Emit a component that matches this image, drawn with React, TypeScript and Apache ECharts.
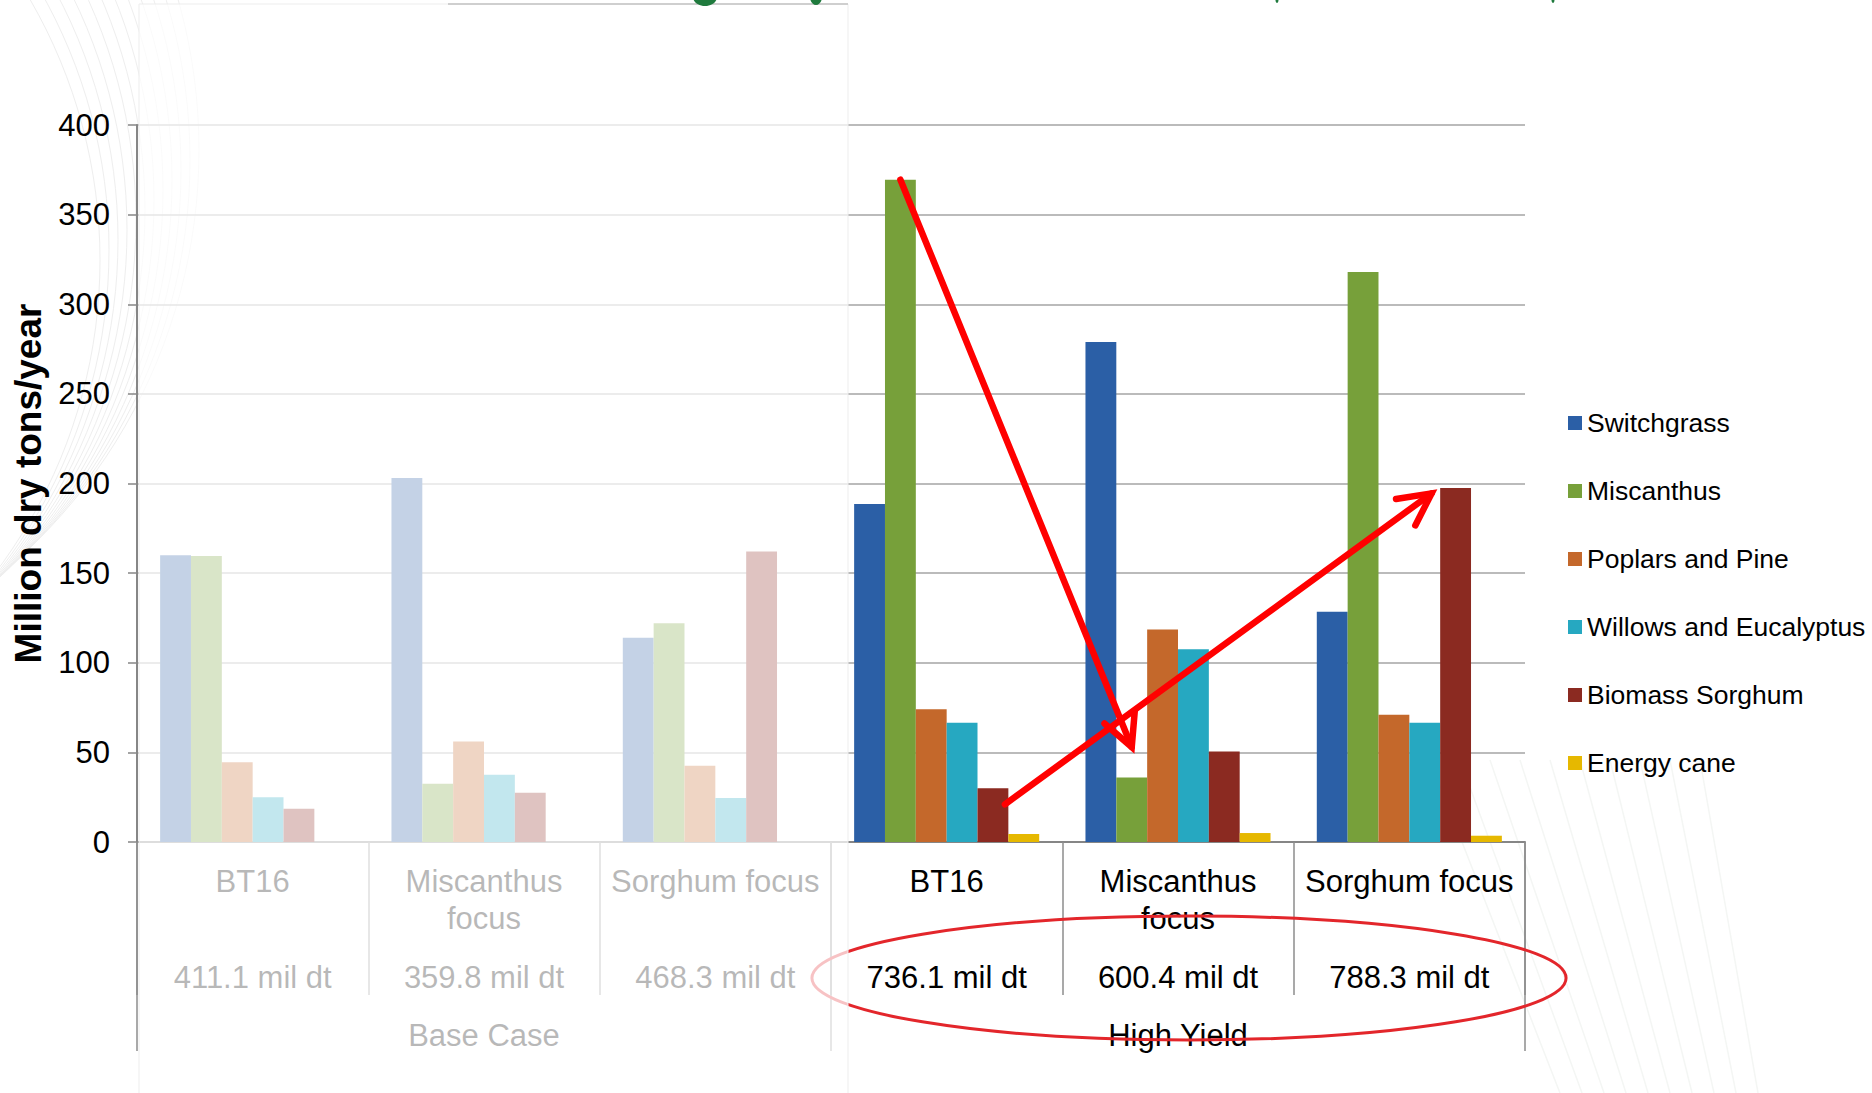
import React, { useEffect, useRef } from 'react';
import * as echarts from 'echarts';

// Scenario categories along the x axis (two nested levels: scenario / case)
const scenarioNames = ['BT16', 'Miscanthus\nfocus', 'Sorghum focus', 'BT16', 'Miscanthus\nfocus', 'Sorghum focus'];
const scenarioTotals = [411.1, 359.8, 468.3, 736.1, 600.4, 788.3];
const caseNames = ['Base Case', 'High Yield'];

// Crops (legend order)
const cropNames = ['Switchgrass', 'Miscanthus', 'Poplars and Pine', 'Willows and Eucalyptus', 'Biomass Sorghum', 'Energy cane'];
const cropColors = ['#2b5fa6', '#77a03a', '#c4682b', '#26a8c1', '#8b2a21', '#e6b800'];

// Million dry tons per year, one value per scenario
const switchgrass = [160, 203, 114, 188.5, 279, 128.5];
const miscanthus = [159.5, 32.5, 122, 369.5, 36, 318];
const poplarsPine = [44.5, 56, 42.5, 74, 118.5, 71];
const willowsEucalyptus = [25, 37.5, 24.5, 66.5, 107.5, 66.5];
const biomassSorghum = [18.5, 27.5, 162, 30, 50.5, 197.5];
const energyCane = [0, 0, 0, 4.5, 5, 3.5];
const cropValues = [switchgrass, miscanthus, poplarsPine, willowsEucalyptus, biomassSorghum, energyCane];

// Value axis
const yMin = 0;
const yMax = 400;
const yStep = 50;

const FONT = '"Liberation Sans", Arial, Helvetica, sans-serif';

export default function App() {
  const ref = useRef<HTMLDivElement>(null);

  useEffect(() => {
    if (!ref.current) return;
    const chart = echarts.init(ref.current, undefined, { renderer: 'svg' });

    const option: any = {
      animation: false,
      backgroundColor: '#ffffff',
      textStyle: { fontFamily: FONT },
      grid: { left: 137, top: 125, width: 1388, height: 717, containLabel: false, outerBoundsMode: 'none' },
      legend: {
        orient: 'vertical',
        left: 1563,
        top: 403,
        icon: 'rect',
        itemWidth: 14,
        itemHeight: 14,
        itemGap: 38,
        selectedMode: false,
        data: cropNames,
        textStyle: { fontFamily: FONT, fontSize: 26.5, lineHeight: 30, color: '#000' },
      },
      xAxis: [
        {
          type: 'category',
          position: 'bottom',
          data: scenarioNames,
          axisLine: { lineStyle: { color: '#868686', width: 2 } },
          axisTick: { show: true, interval: 0, length: 153, lineStyle: { color: '#8c8c8c', width: 1.5 } },
          axisLabel: { interval: 0, fontFamily: FONT, fontSize: 31, lineHeight: 37, color: '#000', margin: 21 },
          splitLine: { show: false },
        },
        {
          type: 'category',
          position: 'bottom',
          data: scenarioTotals.map((v) => `${v.toFixed(1)} mil dt`),
          axisLine: { show: false },
          axisTick: { show: false },
          axisLabel: { interval: 0, fontFamily: FONT, fontSize: 31, lineHeight: 37, color: '#000', margin: 117 },
          splitLine: { show: false },
        },
        {
          type: 'category',
          position: 'bottom',
          data: caseNames,
          axisLine: { show: false },
          axisTick: { show: true, interval: 0, length: 209, lineStyle: { color: '#8c8c8c', width: 1.5 } },
          axisLabel: { interval: 0, fontFamily: FONT, fontSize: 31, lineHeight: 37, color: '#000', margin: 175 },
          splitLine: { show: false },
        },
      ],
      yAxis: {
        type: 'value',
        min: yMin,
        max: yMax,
        interval: yStep,
        name: 'Million dry tons/year',
        nameLocation: 'middle',
        nameRotate: 90,
        nameGap: 87,
        nameTextStyle: { fontFamily: FONT, fontSize: 37, fontWeight: 'bold', color: '#000' },
        axisLine: { show: true, lineStyle: { color: '#868686', width: 2 } },
        axisTick: { show: true, length: 9, lineStyle: { color: '#868686', width: 1.5 } },
        axisLabel: { fontFamily: FONT, fontSize: 31, color: '#000', margin: 27 },
        splitLine: { show: true, lineStyle: { color: '#a5a5a5', width: 1.5 } },
      },
      series: cropNames.map((name, i) => ({
        type: 'bar',
        name,
        xAxisIndex: 0,
        yAxisIndex: 0,
        data: cropValues[i],
        barGap: '0%',
        barCategoryGap: '20%',
        itemStyle: { color: cropColors[i] },
      })),
    };

    chart.setOption(option);

    // Pixel helpers resolved through the chart's own axes
    const pt = (cat: number, val: number) => chart.convertToPixel({ seriesIndex: 0 }, [cat, val]) as number[];
    const band = pt(1, 0)[0] - pt(0, 0)[0];
    const barW = (band * 0.8) / cropNames.length;
    const barPt = (cat: number, s: number, val: number, dx = 0) => {
      const p = pt(cat, val);
      return [p[0] + (s - (cropNames.length - 1) / 2) * barW + dx, p[1]];
    };
    const [x0, yBase] = pt(0, 0);
    const gridLeft = x0 - band / 2;
    const caseSplitX = gridLeft + band * 3;

    // Open arrow head at the end of a segment
    const arrowHead = (from: number[], to: number[], len = 36, ang = 27) => {
      const a = Math.atan2(from[1] - to[1], from[0] - to[0]);
      const r = (ang * Math.PI) / 180;
      return [
        [to[0] + len * Math.cos(a + r), to[1] + len * Math.sin(a + r)],
        [to[0], to[1]],
        [to[0] + len * Math.cos(a - r), to[1] + len * Math.sin(a - r)],
      ];
    };
    const red = '#ff0000';
    const arrows = [
      [barPt(3, 1, miscanthus[3]), barPt(4, 1, 53)],
      [barPt(3, 4, 21, 12), barPt(5, 4, 194.5, -24)],
    ];
    const arrowEls: any[] = [];
    arrows.forEach(([a, b]) => {
      arrowEls.push({
        type: 'line',
        z: 120,
        shape: { x1: a[0], y1: a[1], x2: b[0], y2: b[1] },
        style: { stroke: red, lineWidth: 6.5, lineCap: 'round' },
      });
      arrowEls.push({
        type: 'polyline',
        z: 120,
        shape: { points: arrowHead(a, b) },
        style: { stroke: red, fill: 'none', lineWidth: 6.5, lineCap: 'round', lineJoin: 'miter' },
      });
    });

    // Faint slide background swirl at the left edge and lower right
    const swirl: any[] = [];
    for (let i = 0; i < 12; i++) {
      swirl.push({
        type: 'circle',
        z: -5,
        shape: { cx: -420 + i * 6, cy: 260 - i * 10, r: 520 + i * 3 },
        style: { fill: 'none', stroke: '#eeeeee', lineWidth: 1 },
        silent: true,
      });
    }
    for (let i = 0; i < 10; i++) {
      swirl.push({
        type: 'line',
        z: -5,
        shape: { x1: 1560 + i * 22, y1: 1093, x2: 1430 + i * 30, y2: 760 },
        style: { stroke: '#f4f6f4', lineWidth: 1.5 },
        silent: true,
      });
    }

    const hy = pt(4, 0);

    chart.setOption({
      graphic: [
        ...swirl,
        // Circled high-yield totals
        {
          type: 'ellipse',
          z: 60,
          shape: { cx: hy[0] + 11, cy: yBase + 136, rx: band * 1.63, ry: 62 },
          style: { fill: 'none', stroke: '#e3262b', lineWidth: 3 },
          silent: true,
        },
        // Wash over the base-case panel
        {
          type: 'rect',
          z: 100,
          shape: { x: gridLeft + 2, y: 4, width: caseSplitX + 17 - (gridLeft + 2), height: 1093 },
          style: { fill: 'rgba(255,255,255,0.72)', stroke: '#ededed', lineWidth: 1 },
          silent: true,
        },
        {
          type: 'line',
          z: 101,
          shape: { x1: 448, y1: 4, x2: caseSplitX + 17, y2: 4 },
          style: { stroke: '#cfcfcf', lineWidth: 2 },
          silent: true,
        },
        // Bottoms of the slide heading glyphs
        { type: 'ellipse', z: 102, shape: { cx: 705, cy: -3, rx: 12, ry: 9 }, style: { fill: '#1f7a3d' }, silent: true },
        { type: 'ellipse', z: 102, shape: { cx: 816, cy: -3, rx: 6, ry: 8 }, style: { fill: '#1f7a3d' }, silent: true },
        { type: 'ellipse', z: 102, shape: { cx: 1277, cy: 0, rx: 1.5, ry: 3 }, style: { fill: '#1f7a3d' }, silent: true },
        { type: 'ellipse', z: 102, shape: { cx: 1553, cy: 0, rx: 1.5, ry: 3 }, style: { fill: '#1f7a3d' }, silent: true },
        ...arrowEls,
      ],
    });

    return () => chart.dispose();
  }, []);

  return (
    <div
      ref={ref}
      style={{ position: 'fixed', left: 0, top: 0, width: 1872, height: 1093, background: '#fff' }}
    />
  );
}
